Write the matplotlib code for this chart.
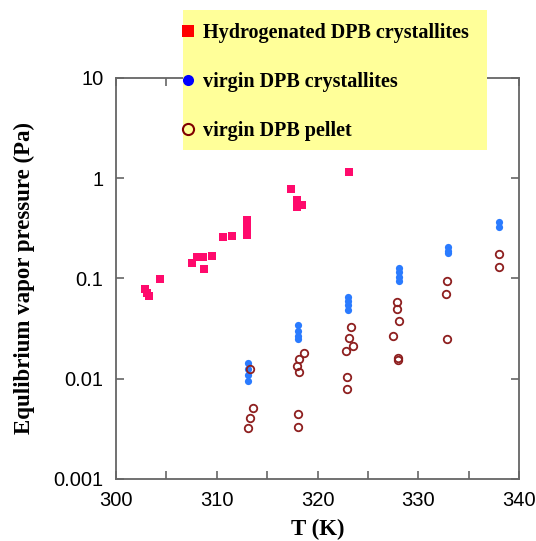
import numpy as np
import matplotlib
matplotlib.use("Agg")
import matplotlib.pyplot as plt
from matplotlib.lines import Line2D
from matplotlib.patches import Rectangle

# hydrogenated DPB crystallites
T_hyd = [302.9, 303.1, 303.3, 304.4, 307.5, 308.0, 308.6, 308.7, 309.5, 310.6, 311.5,
         313.0, 313.0, 313.0, 313.0, 317.4, 318.0, 318.0, 318.5, 323.1]
P_hyd = [0.079, 0.072, 0.067, 0.099, 0.143, 0.164, 0.164, 0.124, 0.168, 0.26, 0.265,
         0.385, 0.35, 0.31, 0.27, 0.78, 0.61, 0.52, 0.54, 1.15]

# virgin DPB crystallites
T_vir = [313.1, 313.1, 313.1, 313.1, 318.1, 318.1, 318.1, 318.1, 323.0, 323.0, 323.0, 323.0,
         328.1, 328.1, 328.1, 328.1, 333.0, 333.0, 333.0, 338.0, 338.0]
P_vir = [0.0145, 0.0125, 0.011, 0.0095, 0.034, 0.030, 0.027, 0.025, 0.066, 0.060, 0.054, 0.049,
         0.128, 0.115, 0.104, 0.094, 0.205, 0.19, 0.178, 0.365, 0.33]

# virgin DPB pellet
T_pel = [313.3, 313.6, 313.3, 313.1, 318.7, 318.2, 318.0, 318.2, 318.1, 318.1,
         323.3, 323.1, 323.5, 322.8, 322.9, 322.9,
         327.9, 327.9, 328.1, 327.5, 328.0, 328.0, 332.9, 332.8, 332.9, 338.0, 338.0]
P_pel = [0.0125, 0.0051, 0.0041, 0.0032, 0.0181, 0.0157, 0.0134, 0.0117, 0.0045, 0.0033,
         0.033, 0.0255, 0.0212, 0.0189, 0.0104, 0.0079,
         0.058, 0.0497, 0.0377, 0.0267, 0.0161, 0.0155, 0.094, 0.070, 0.0249, 0.175, 0.130]

labels = ["Hydrogenated DPB crystallites", "virgin DPB crystallites", "virgin DPB pellet"]

W, H = 536, 541
fig = plt.figure(figsize=(W / 100, H / 100), dpi=100)
ax = fig.add_axes([116 / W, 1 - 479 / H, (519 - 116) / W, (479 - 78) / H])

ax.plot(T_hyd, P_hyd, 's', color='#FF0A6C', markersize=5.8, markeredgewidth=0, linestyle='none')
ax.plot(T_vir, P_vir, 'o', color='#2A7BFF', markersize=5.2, markeredgewidth=0, linestyle='none')
ax.plot(T_pel, P_pel, 'o', markerfacecolor='none', markeredgecolor='#8E1F1F',
        markersize=5.4, markeredgewidth=1.3, linestyle='none')

ax.set_yscale('log')
ax.set_xlim(300, 340)
ax.set_ylim(0.001, 10)
ax.set_xticks([300, 310, 320, 330, 340])
ax.set_xticks([305, 315, 325, 335], minor=True)
ax.set_yticks([0.001, 0.01, 0.1, 1, 10])
ax.set_yticklabels(["0.001", "0.01", "0.1", "1", "10"])
ax.yaxis.set_minor_locator(matplotlib.ticker.NullLocator())

for s in ax.spines.values():
    s.set_color('#666666')
    s.set_linewidth(1.3)
ax.tick_params(which='both', direction='in', top=True, right=True, length=6,
               width=1.2, color='#666666', labelsize=14.5, pad=9)
for lab in ax.get_xticklabels() + ax.get_yticklabels():
    lab.set_family('Liberation Sans')

ax.set_xlabel("T (K)", family='Liberation Serif', fontweight='bold', fontsize=16.5, labelpad=6)
ax.set_ylabel("Equlibrium vapor pressure (Pa)", family='Liberation Serif', fontweight='bold',
              fontsize=16.5, labelpad=13)

# yellow legend box
fig.patches.append(Rectangle((183 / W, 1 - 150 / H), (487 - 183) / W, 140 / H,
                             transform=fig.transFigure, facecolor='#FFFF99',
                             edgecolor='none', zorder=4))
handles = [
    Line2D([], [], marker='s', color='#FF0000', markersize=8, linestyle='none', markeredgewidth=0),
    Line2D([], [], marker='o', color='#0000FF', markersize=8, linestyle='none', markeredgewidth=0),
    Line2D([], [], marker='o', markerfacecolor='none', markeredgecolor='#800000',
           markersize=8, markeredgewidth=1.5, linestyle='none'),
]
fig.legend(handles, labels, loc='upper left', bbox_to_anchor=(178 / W, 1 - 23 / H),
           frameon=False, prop={'family': 'Liberation Serif', 'weight': 'bold', 'size': 14.5},
           handlelength=1.0, handletextpad=0.25, labelspacing=1.45, borderpad=0,
           borderaxespad=0)

fig.savefig("out.png", dpi=100)
